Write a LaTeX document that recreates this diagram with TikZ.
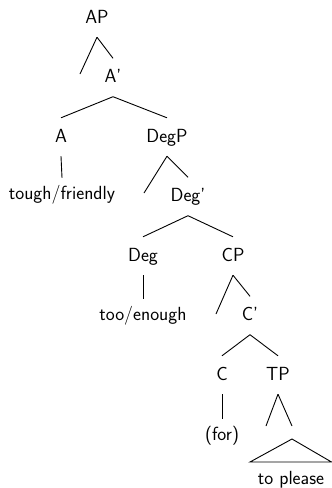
\documentclass[tikz,border=0pt]{standalone}
\tikzset{
  cat/.style={inner sep=0pt, anchor=base, text height=24pt, text depth=14pt,
              font=\fontsize{19}{23}\selectfont\sffamily},
  leaf/.style={cat, text height=21pt, text depth=6pt},
  branch/.style={line width=0.9pt}
}
\begin{document}
\begin{tikzpicture}[x=1pt,y=-1pt]
  \useasboundingbox (0,0) rectangle (332,488);
  % categories, placed by baseline
  \node[cat] (AP)   at (97,23)    {AP};
  \node[cat] (Ab)   at (113,82.5) {A'};
  \node[cat] (A)    at (61,142)   {A};
  \node[cat] (DegP) at (167,142)  {DegP};
  \node[leaf] (tf)  at (62,199)   {tough/friendly};
  \node[cat] (Degb) at (188,201.5){Deg'};
  \node[cat] (Deg)  at (143,261)  {Deg};
  \node[cat] (CP)   at (233,261)  {CP};
  \node[leaf] (te)  at (143,320)  {too/enough};
  \node[cat] (Cb)   at (250,320.5){C'};
  \node[cat] (C)    at (222,380)  {C};
  \node[cat] (TP)   at (278,380)  {TP};
  \node[leaf] (for) at (222,440)  {(for)};
  \node[leaf] (tp)  at (291,484)  {to please};
  % loose ends of the empty specifier branches
  \coordinate (APspec)   at (80,74);
  \coordinate (DegPspec) at (144,193);
  \coordinate (CPspec)   at (216,314);
  % triangle under TP
  \coordinate (triTop) at (292,439);
  \coordinate (triL)   at (250,462);
  \coordinate (triR)   at (331.5,462);
  \coordinate (TPl) at (266,426);
  \coordinate (TPr) at (292,426);
  % branches
  \draw[branch] (AP.south) -- (APspec);
  \draw[branch] (AP.south) -- (Ab.north);
  \draw[branch] (Ab.south) -- (A.north);
  \draw[branch] (Ab.south) -- (DegP.north);
  \draw[branch] (A.south) -- (tf.north);
  \draw[branch] (DegP.south) -- (DegPspec);
  \draw[branch] (DegP.south) -- (Degb.north);
  \draw[branch] (Degb.south) -- (Deg.north);
  \draw[branch] (Degb.south) -- (CP.north);
  \draw[branch] (Deg.south) -- (te.north);
  \draw[branch] (CP.south) -- (CPspec);
  \draw[branch] (CP.south) -- (Cb.north);
  \draw[branch] (Cb.south) -- (C.north);
  \draw[branch] (Cb.south) -- (TP.north);
  \draw[branch] (C.south) -- (for.north);
  \draw[branch] (TP.south) -- (TPl);
  \draw[branch] (TP.south) -- (TPr);
  \draw[branch] (triTop) -- (triL) -- (triR) -- cycle;
\end{tikzpicture}
\end{document}
